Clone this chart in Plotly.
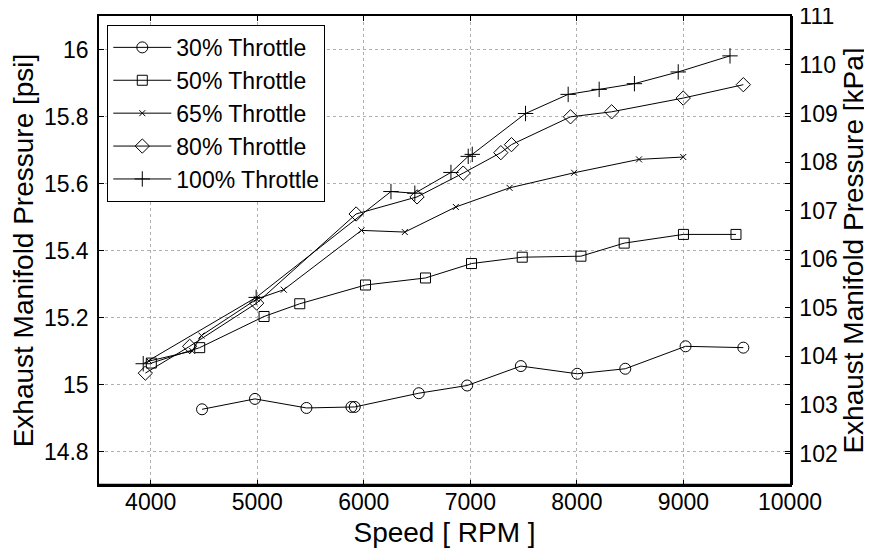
import plotly.graph_objects as go

PSI_TO_KPA = 6.89476

rpm_30 = [4482, 4979, 5462, 5884, 5915, 6516, 6970, 7474, 8003, 8454, 9020, 9562]
psi_30 = [14.926, 14.957, 14.930, 14.933, 14.933, 14.974, 14.997, 15.055, 15.032, 15.047, 15.114, 15.110]

rpm_50 = [4006, 4460, 5064, 5399, 6016, 6579, 7011, 7487, 8038, 8444, 9000, 9493]
psi_50 = [15.064, 15.110, 15.203, 15.241, 15.297, 15.318, 15.361, 15.380, 15.383, 15.422, 15.448, 15.448]

rpm_65 = [3985, 4390, 4476, 4995, 5249, 5978, 6385, 6864, 7368, 7974, 8583, 8998]
psi_65 = [15.070, 15.100, 15.146, 15.255, 15.283, 15.460, 15.455, 15.530, 15.587, 15.632, 15.672, 15.679]

rpm_80 = [3950, 4366, 4995, 5928, 6500, 6933, 7286, 7386, 7940, 8326, 8998, 9562]
psi_80 = [15.034, 15.114, 15.243, 15.509, 15.560, 15.631, 15.692, 15.716, 15.799, 15.814, 15.855, 15.895]

rpm_100 = [3930, 4990, 6255, 6479, 6818, 6980, 7018, 7518, 7918, 8209, 8540, 8951, 9437]
psi_100 = [15.062, 15.260, 15.576, 15.571, 15.633, 15.681, 15.687, 15.809, 15.866, 15.881, 15.898, 15.933, 15.981]

names = ["30% Throttle", "50% Throttle", "65% Throttle", "80% Throttle", "100% Throttle"]
x_ticks = [4000, 5000, 6000, 7000, 8000, 9000, 10000]
x_tick_text = ["4000", "5000", "6000", "7000", "8000", "9000", "10000"]
y_ticks = [14.8, 15.0, 15.2, 15.4, 15.6, 15.8, 16.0]
y_tick_text = ["14.8", "15", "15.2", "15.4", "15.6", "15.8", "16"]
kpa_ticks = [102, 103, 104, 105, 106, 107, 108, 109, 110, 111]

series = [
    (rpm_30, psi_30, "circle-open", 11),
    (rpm_50, psi_50, "square-open", 10),
    (rpm_65, psi_65, "x-thin-open", 6),
    (rpm_80, psi_80, "diamond-open", 11),
    (rpm_100, psi_100, "cross-thin-open", 11),
]

FONT = "Arial, 'Liberation Sans', Helvetica, sans-serif"
FS = 23

fig = go.Figure()
for (xs, ys, sym, sz), nm in zip(series, names):
    fig.add_trace(go.Scatter(
        x=xs, y=ys, name=nm, mode="lines+markers",
        line=dict(color="black", width=1),
        marker=dict(symbol=sym, size=sz, color="black",
                    line=dict(color="black", width=1)),
    ))

# invisible trace for right axis
fig.add_trace(go.Scatter(x=[rpm_30[0]], y=[psi_30[0] * PSI_TO_KPA], yaxis="y2",
                         mode="markers", marker=dict(opacity=0), showlegend=False,
                         hoverinfo="skip"))

y_range = [14.7, 16.1]
fig.update_layout(
    width=864, height=544,
    margin=dict(l=91, r=82, t=8, b=67, autoexpand=False),
    paper_bgcolor="white", plot_bgcolor="white",
    font=dict(family=FONT, size=FS, color="black"),
    showlegend=True,
    legend=dict(x=0.012, y=0.981, xanchor="left", yanchor="top",
                bordercolor="black", borderwidth=1, bgcolor="white",
                font=dict(size=FS), itemwidth=58, tracegroupgap=0),
    xaxis=dict(range=[3515, 10000], tickvals=x_ticks, ticktext=x_tick_text,
               ticks="inside", ticklen=5, ticklabelstandoff=-4,
               ticklabeloverflow="allow",
               tickcolor="black", showline=True, linecolor="black", linewidth=1.5,
               mirror="ticks", showgrid=True, gridcolor="#b0b0b0", griddash="dot",
               gridwidth=1, zeroline=False, automargin=False,
               title=dict(text="Speed [ RPM ]", standoff=8),
               tickfont=dict(size=FS)),
    yaxis=dict(range=y_range, tickvals=y_ticks, ticktext=y_tick_text,
               ticks="inside", ticklen=5, tickcolor="black", ticklabelstandoff=4,
               ticklabeloverflow="allow",
               showline=True, linecolor="black", linewidth=1.5, mirror="ticks",
               showgrid=True, gridcolor="#b0b0b0", griddash="dot", gridwidth=1,
               zeroline=False, automargin=False,
               title=dict(text="Exhaust Manifold Pressure [psi]", standoff=6),
               tickfont=dict(size=FS)),
    yaxis2=dict(range=[y_range[0] * PSI_TO_KPA, y_range[1] * PSI_TO_KPA],
                tickvals=kpa_ticks, overlaying="y", side="right",
                ticks="inside", ticklen=5, tickcolor="black", ticklabelstandoff=2,
                ticklabeloverflow="allow",
                showline=True, linecolor="black", linewidth=2.5,
                showgrid=False, zeroline=False, automargin=False,
                title=dict(text="Exhaust Manifold Pressure [kPa]", standoff=4),
                tickfont=dict(size=FS)),
    shapes=[dict(type="line", xref="paper", yref="paper", x0=0, x1=1, y0=0, y1=0,
                 line=dict(color="black", width=2.5))],
)

fig.write_html("out.html")
